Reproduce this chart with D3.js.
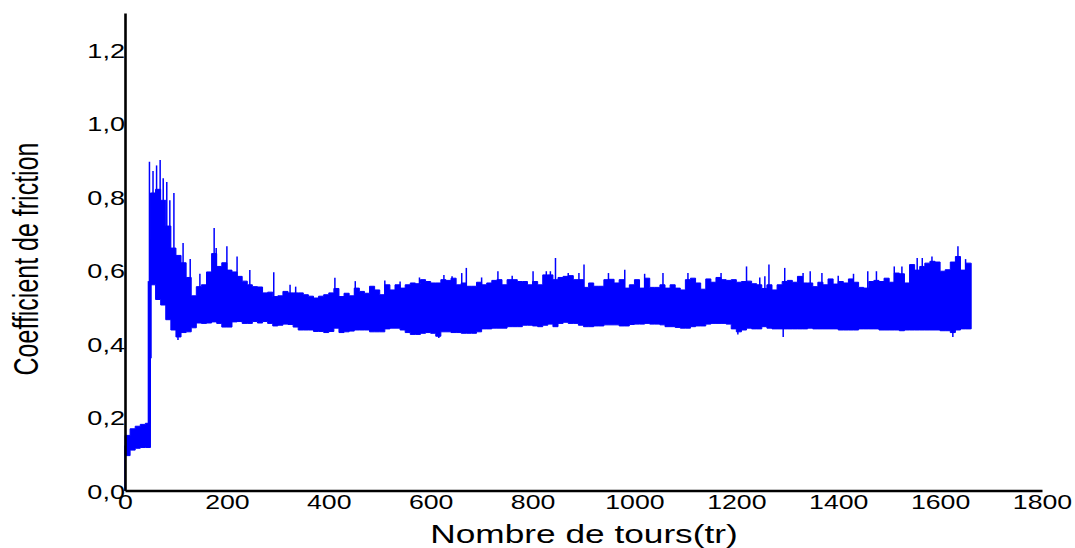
<!DOCTYPE html>
<html>
<head>
<meta charset="utf-8">
<script src="https://cdn.jsdelivr.net/npm/d3@7"></script>
<style>
    body { margin: 0; background: #ffffff; }
    svg { display: block; }
</style>
</head>
<body>
<div id="chart"></div>
<script>
// essai de frottement : enveloppe haute / basse du coefficient, relevee tous les 10 tours
var pasTours = 10;
var finEssai = 1661;

var coefHaut = [
    0.15, 0.168, 0.175, 0.18, 0.183, 0.81, 0.82, 0.79, 0.72, 0.66,
    0.64, 0.62, 0.58, 0.53, 0.555, 0.56, 0.595, 0.645, 0.61, 0.62,
    0.60, 0.595, 0.583, 0.57, 0.56, 0.555, 0.554, 0.538, 0.54, 0.528,
    0.53, 0.542, 0.538, 0.538, 0.538, 0.533, 0.529, 0.524, 0.529, 0.533,
    0.538, 0.55, 0.528, 0.537, 0.53, 0.551, 0.542, 0.537, 0.556, 0.546,
    0.533, 0.56, 0.546, 0.56, 0.551, 0.56, 0.565, 0.563, 0.574, 0.569,
    0.565, 0.565, 0.574, 0.572, 0.578, 0.56, 0.565, 0.556, 0.556, 0.567,
    0.56, 0.565, 0.572, 0.574, 0.56, 0.574, 0.574, 0.569, 0.569, 0.56,
    0.569, 0.56, 0.587, 0.587, 0.574, 0.58, 0.583, 0.585, 0.574, 0.574,
    0.553, 0.565, 0.556, 0.556, 0.574, 0.575, 0.565, 0.574, 0.551, 0.56,
    0.574, 0.551, 0.578, 0.553, 0.553, 0.56, 0.551, 0.56, 0.551, 0.546,
    0.574, 0.578, 0.565, 0.548, 0.576, 0.567, 0.58, 0.574, 0.572, 0.574,
    0.567, 0.569, 0.57, 0.563, 0.56, 0.55, 0.56, 0.546, 0.56, 0.569,
    0.572, 0.567, 0.583, 0.565, 0.565, 0.555, 0.567, 0.56, 0.576, 0.562,
    0.569, 0.565, 0.576, 0.567, 0.553, 0.551, 0.569, 0.572, 0.569, 0.578,
    0.567, 0.592, 0.59, 0.565, 0.615, 0.60, 0.61, 0.619, 0.624, 0.622,
    0.597, 0.601, 0.622, 0.637, 0.60, 0.619, 0.619
];

var coefBas = [
    0.095, 0.11, 0.115, 0.117, 0.117, 0.56, 0.52, 0.505, 0.465, 0.437,
    0.418, 0.43, 0.432, 0.443, 0.456, 0.455, 0.456, 0.459, 0.455, 0.445,
    0.445, 0.459, 0.46, 0.455, 0.455, 0.46, 0.456, 0.46, 0.455, 0.448,
    0.45, 0.453, 0.452, 0.445, 0.437, 0.437, 0.437, 0.433, 0.433, 0.43,
    0.433, 0.442, 0.43, 0.432, 0.434, 0.437, 0.437, 0.437, 0.432, 0.432,
    0.432, 0.44, 0.442, 0.442, 0.437, 0.43, 0.425, 0.425, 0.428, 0.43,
    0.428, 0.42, 0.432, 0.432, 0.43, 0.43, 0.428, 0.428, 0.428, 0.432,
    0.44, 0.44, 0.442, 0.442, 0.442, 0.446, 0.446, 0.446, 0.45, 0.45,
    0.448, 0.446, 0.45, 0.453, 0.446, 0.455, 0.458, 0.455, 0.455, 0.45,
    0.446, 0.446, 0.448, 0.448, 0.451, 0.451, 0.451, 0.448, 0.448, 0.452,
    0.453, 0.453, 0.455, 0.453, 0.453, 0.451, 0.446, 0.446, 0.444, 0.442,
    0.442, 0.446, 0.448, 0.448, 0.453, 0.455, 0.455, 0.455, 0.453, 0.44,
    0.432, 0.437, 0.442, 0.44, 0.44, 0.446, 0.442, 0.44, 0.44, 0.44,
    0.44, 0.44, 0.44, 0.44, 0.442, 0.44, 0.44, 0.44, 0.44, 0.44,
    0.437, 0.437, 0.437, 0.437, 0.44, 0.44, 0.44, 0.44, 0.437, 0.437,
    0.437, 0.437, 0.435, 0.437, 0.437, 0.437, 0.437, 0.437, 0.437, 0.437,
    0.435, 0.435, 0.43, 0.437, 0.44, 0.44, 0.44
];

// pics isoles qui sortent de l'enveloppe (tour, valeur)
var picsTours = [0, 46, 48, 51, 55, 62, 69, 75, 82, 88, 96, 104, 114, 128, 147, 161, 175, 179, 200, 220,
    245, 292, 324, 335, 412, 452, 510, 540, 578, 616, 626, 642, 661, 670, 700, 732, 760, 801, 827, 835,
    845, 870, 891, 901, 949, 981, 1020, 1056, 1105, 1170, 1203, 1220, 1246, 1256, 1264, 1292, 1295, 1331, 1345, 1368,
    1400, 1430, 1458, 1475, 1510, 1525, 1555, 1565, 1584, 1625, 1635, 1650];
var picsValeurs = [0.0, 0.57, 0.895, 0.36, 0.87, 0.885, 0.90, 0.85, 0.84, 0.79, 0.81, 0.41, 0.674, 0.63, 0.59, 0.592, 0.715, 0.66, 0.665, 0.637,
    0.60, 0.594, 0.56, 0.555, 0.579, 0.57, 0.572, 0.569, 0.58, 0.415, 0.587, 0.583, 0.592, 0.606, 0.58, 0.597, 0.585, 0.597, 0.597, 0.597,
    0.633, 0.592, 0.592, 0.615, 0.592, 0.601, 0.59, 0.592, 0.592, 0.592, 0.425, 0.61, 0.58, 0.583, 0.615, 0.418, 0.606, 0.592, 0.597, 0.592,
    0.585, 0.59, 0.597, 0.597, 0.61, 0.61, 0.633, 0.633, 0.637, 0.418, 0.665, 0.63];

var xTicks = [0, 200, 400, 600, 800, 1000, 1200, 1400, 1600, 1800];
var yTicks = [0.0, 0.2, 0.4, 0.6, 0.8, 1.0, 1.2];

var w = 1075;
var h = 548;
var bleu = "#0000ff";
var police = "Arial, 'Liberation Sans', sans-serif";

var svg = d3.select("#chart").append("svg").attr("width", w).attr("height", h);

var xScale = d3.scaleLinear().domain([0, 1800]).range([125, 1042]);
var yScale = d3.scaleLinear().domain([0, 1.3]).range([490.5, 13]);

var mesures = coefHaut.map(function (d, i) {
    return { tour: i * pasTours, haut: d, bas: coefBas[i] };
});
// ferme la derniere marche
mesures.push({ tour: finEssai, haut: coefHaut[coefHaut.length - 1], bas: coefBas[coefBas.length - 1] });

function milieu(t) {
    var i = Math.min(Math.floor(t / pasTours), coefHaut.length - 1);
    return (coefHaut[i] + coefBas[i]) / 2;
}

//signal
var aire = d3.area()
    .curve(d3.curveStepAfter)
    .x(function (d) { return xScale(d.tour); })
    .y0(function (d) { return yScale(d.bas); })
    .y1(function (d) { return yScale(d.haut); });

svg.append("path")
    .datum(mesures)
    .attr("d", aire)
    .attr("fill", bleu)
    .attr("stroke", bleu)
    .attr("stroke-width", 1);

svg.append("g").selectAll("line")
    .data(picsTours)
    .enter()
    .append("line")
    .attr("x1", function (d) { return xScale(d); })
    .attr("x2", function (d) { return xScale(d); })
    .attr("y1", function (d) { return yScale(milieu(d)); })
    .attr("y2", function (d, i) { return yScale(picsValeurs[i]); })
    .attr("stroke", bleu)
    .attr("stroke-width", 1.5);

//axes
var xAxis = d3.axisBottom(xScale).tickValues(xTicks).tickSize(0).tickPadding(0).tickFormat(d3.format("d"));
var gx = svg.append("g").attr("transform", "translate(0," + yScale(0) + ")").call(xAxis);
gx.select(".domain").attr("stroke", "#000").attr("stroke-width", 2.6);
gx.selectAll(".tick text")
    .attr("fill", "#000")
    .attr("font-family", police)
    .attr("font-size", "21px")
    .attr("dy", null)
    .attr("y", 0)
    .attr("transform", "translate(0,18) scale(1.27,1)");

var yAxis = d3.axisLeft(yScale).tickValues(yTicks).tickSize(0).tickPadding(0)
    .tickFormat(function (d) { return d.toFixed(1).replace(".", ","); });
var gy = svg.append("g").attr("transform", "translate(" + xScale(0) + ",0)").call(yAxis);
gy.select(".domain").attr("stroke", "#000").attr("stroke-width", 2.6);
gy.selectAll(".tick text")
    .attr("fill", "#000")
    .attr("font-family", police)
    .attr("font-size", "21px")
    .attr("x", 0)
    .attr("dy", "0.36em")
    .attr("transform", "scale(1.29,1)");

//titres
svg.append("text")
    .attr("transform", "translate(584,543) scale(1.41,1)")
    .attr("text-anchor", "middle")
    .attr("font-family", police)
    .attr("font-size", "25px")
    .attr("fill", "#000")
    .text("Nombre de tours(tr)");

svg.append("text")
    .attr("transform", "translate(38,259) scale(1.4,1) rotate(-90)")
    .attr("text-anchor", "middle")
    .attr("font-family", police)
    .attr("font-size", "25px")
    .attr("fill", "#000")
    .text("Coefficient de friction");
</script>
</body>
</html>
